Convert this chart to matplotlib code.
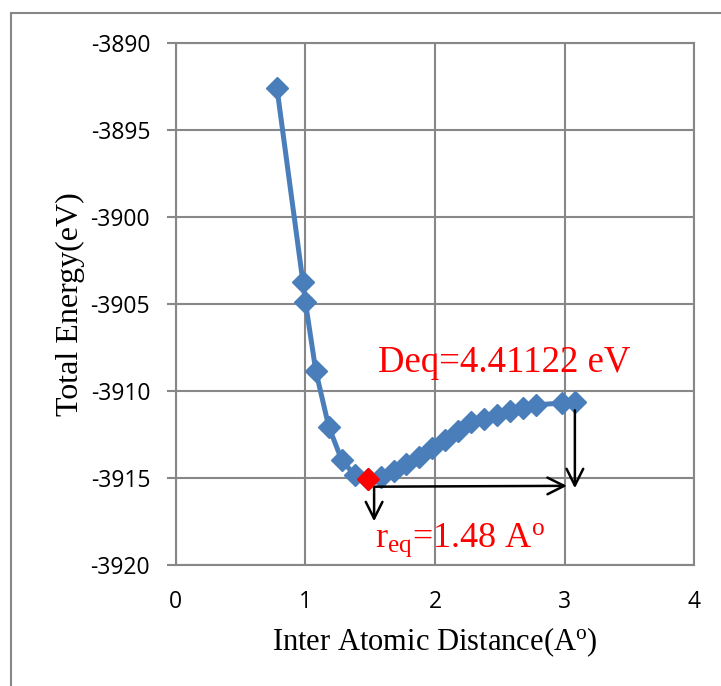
import numpy as np
import matplotlib.pyplot as plt
from matplotlib.patches import Rectangle

# inter atomic distance (A) and total energy (eV)
dist = [0.78, 0.98, 1.00, 1.08, 1.18, 1.28, 1.38, 1.48, 1.58, 1.68, 1.78, 1.88,
        1.98, 2.08, 2.18, 2.28, 2.38, 2.48, 2.58, 2.68, 2.78, 2.98, 3.08]
energy = [-3892.59, -3903.72, -3904.90, -3908.85, -3912.05, -3913.97, -3914.83,
          -3915.06, -3914.97, -3914.60, -3914.20, -3913.79, -3913.28, -3912.82,
          -3912.30, -3911.78, -3911.61, -3911.38, -3911.15, -3910.98, -3910.80,
          -3910.69, -3910.65]
r_eq = 1.48
e_min = -3915.06
x_ticks = [0, 1, 2, 3, 4]
y_ticks = [-3920, -3915, -3910, -3905, -3900, -3895, -3890]

serif = 'Liberation Serif'
plt.rcParams['mathtext.fontset'] = 'custom'
plt.rcParams['mathtext.rm'] = serif
plt.rcParams['mathtext.it'] = serif + ':italic'

fig = plt.figure(figsize=(7.21, 6.86), dpi=100)
ax = fig.add_axes([0.244, 0.1764, 0.7186, 0.7609])

blue = '#4a7ebb'
ax.plot(dist, energy, color=blue, lw=3.6, marker='D', ms=11, mfc=blue, mec=blue, zorder=3)
ax.plot([r_eq], [e_min], ls='none', marker='D', ms=11, color='red', zorder=4)

ax.set_xlim(0, 4)
ax.set_ylim(-3920, -3890)
ax.set_xticks(x_ticks)
ax.set_yticks(y_ticks)
ax.set_xticklabels([str(v) for v in x_ticks], family='Open Sans', fontsize=16.5)
ax.set_yticklabels([str(v) for v in y_ticks], family='Open Sans', fontsize=16.5)
ax.grid(True, color='#878787', lw=1.5)
ax.set_axisbelow(True)
for s in ax.spines.values():
    s.set_color('#878787')
    s.set_linewidth(1.5)
ax.tick_params(axis='y', length=6.5, color='#878787', width=1.5, pad=12)
ax.tick_params(axis='x', length=0, pad=18)

ax.set_xlabel('Inter Atomic Distance(A$^{\\rm o}$)', family=serif, fontsize=22, labelpad=8)
ax.set_ylabel('Total Energy(eV)', family=serif, fontsize=23, labelpad=4)

# arrows
ap = dict(arrowstyle='->', color='black', lw=1.8, mutation_scale=30)
ax.annotate('', xy=(1.53, -3917.65), xytext=(1.53, -3915.35), arrowprops=ap)
ax.annotate('', xy=(3.04, -3915.45), xytext=(1.52, -3915.5), arrowprops=ap)
ax.annotate('', xy=(3.08, -3915.75), xytext=(3.08, -3910.95), arrowprops=ap)

ax.text(1.56, -3908.4, 'Deq=4.41122 eV', color='red', family=serif, fontsize=26.5,
        va='center', ha='left')
ax.text(1.54, -3918.6, r'r$_{\rm eq}$=1.48 A$^{\rm o}$', color='red', family=serif,
        fontsize=26, va='center', ha='left')

# outer frame of the chart area
fig.patches.append(Rectangle((11 / 721, -0.1), 1.2, 1 - 13 / 686 + 0.1, transform=fig.transFigure,
                             fill=False, ec='#878787', lw=1.5))

fig.savefig('out.png', dpi=100)
